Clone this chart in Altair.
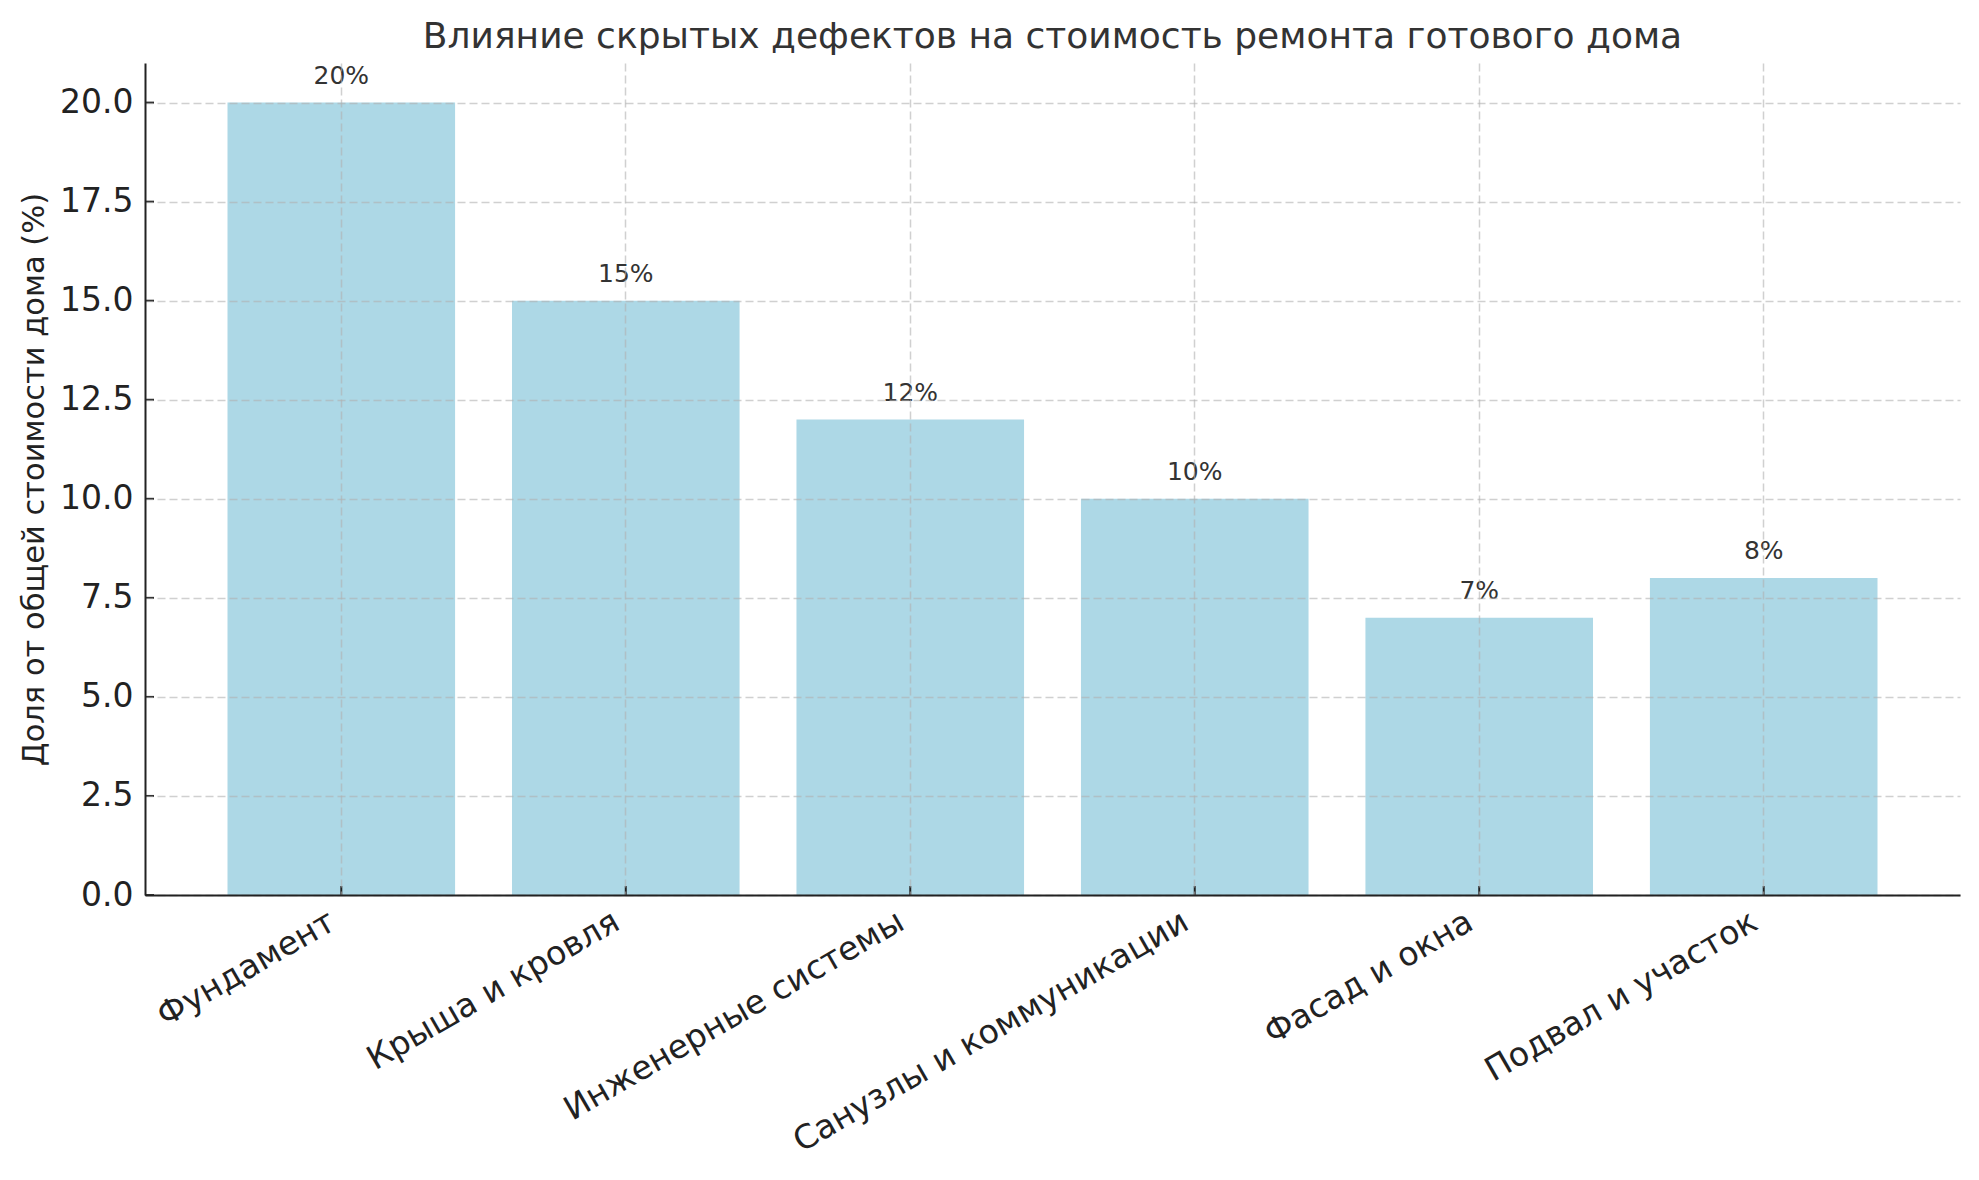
import altair as alt
import pandas as pd

categories = ["Фундамент", "Крыша и кровля", "Инженерные системы",
              "Санузлы и коммуникации", "Фасад и окна", "Подвал и участок"]
values = [20, 15, 12, 10, 7, 8]
bar_labels = ["20%", "15%", "12%", "10%", "7%", "8%"]
y_ticks = [0, 2.5, 5, 7.5, 10, 12.5, 15, 17.5, 20]

title = "Влияние скрытых дефектов на стоимость ремонта готового дома"
y_title = "Доля от общей стоимости дома (%)"

W, H = 1815, 832
FONT = "DejaVu Sans"

df = pd.DataFrame({"cat": categories, "val": values, "lab": bar_labels})
df_ticks = pd.DataFrame({"val": y_ticks})

x_enc = alt.X(
    "cat:N", sort=categories, title=None,
    scale=alt.Scale(paddingInner=0.2, paddingOuter=0.29),
    axis=alt.Axis(
        labelAngle=-30, labelAlign="right", labelBaseline="top",
        labelFont=FONT, labelFontSize=33, labelColor="#222222",
        labelLimit=1000, labelPadding=10, labelOffset=-17,
        ticks=False, tickSize=0, bandPosition=0.5,
        domainColor="#222222", domainWidth=2,
        grid=True, gridColor="#b0b0b0", gridOpacity=0.6,
        gridDash=[8, 4], gridWidth=1.5, zindex=1,
    ),
)
y_enc = alt.Y(
    "val:Q", title=y_title,
    scale=alt.Scale(domain=[0, 21], nice=False, zero=True),
    axis=alt.Axis(
        values=y_ticks, format=".1f",
        labelFont=FONT, labelFontSize=33, labelColor="#222222",
        labelPadding=12, ticks=False, tickSize=0,
        domainColor="#222222", domainWidth=2,
        titleFont=FONT, titleFontSize=30.5, titleFontWeight="normal",
        titleColor="#222222", titlePadding=10,
        grid=True, gridColor="#b0b0b0", gridOpacity=0.6,
        gridDash=[8, 4], gridWidth=1.5, zindex=1,
    ),
)

base = alt.Chart(df)

bars = base.mark_bar(color="#ADD8E6").encode(x=x_enc, y=y_enc)

texts = base.mark_text(
    baseline="alphabetic", dy=-19, font=FONT, fontSize=25, color="#333333"
).encode(x=x_enc, y=y_enc, text="lab:N")

x_tick_marks = base.mark_rule(color="#222222", strokeWidth=2).encode(
    x=x_enc, y=alt.value(H), y2=alt.value(H - 9)
)

y_tick_marks = alt.Chart(df_ticks).mark_rule(color="#222222", strokeWidth=2).encode(
    y=y_enc, x=alt.value(0), x2=alt.value(9)
)

chart = (
    alt.layer(bars, texts, x_tick_marks, y_tick_marks)
    .properties(
        width=W, height=H,
        title=alt.TitleParams(
            title, font=FONT, fontSize=36, fontWeight="normal",
            color="#333333", anchor="middle", frame="group", offset=7,
        ),
        autosize=alt.AutoSizeParams(type="none"),
        padding={"left": 137, "top": 55, "right": 11, "bottom": 270},
    )
    .configure_view(stroke=None)
)

chart.save("out.html", embed_options={"renderer": "svg", "actions": False})
